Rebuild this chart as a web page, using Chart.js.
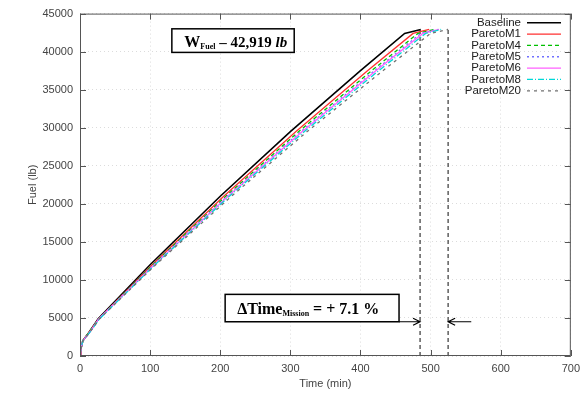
<!DOCTYPE html>
<html>
<head>
<meta charset="utf-8">
<script src="https://cdn.jsdelivr.net/npm/chart.js@4"></script>
<style>
  html, body { margin: 0; padding: 0; background: #fff; }
  #wrap { width: 586px; height: 394px; }
</style>
</head>
<body>
<div id="wrap"><canvas id="c" width="586" height="394"></canvas></div>
<script>
// Datos (combustible acumulado vs. tiempo)
const fuelLb = [0, 800, 2000, 3000, 4900, 12000, 21000, 29500, 37500, 42400, 42919];

const tBaseline = [0, 1, 4, 12, 26, 100, 200, 300, 400, 463, 486];
const tParetoM1 = [0, 1, 4, 12, 27, 103, 205, 308, 410, 475, 498];
const tParetoM4 = [0, 1, 4, 12, 27, 104, 208, 312, 416, 482, 505];
const tParetoM5 = [0, 1, 4, 13, 27, 105, 210, 315, 420, 486, 510];
const tParetoM6 = [0, 1, 4, 13, 27, 106, 211, 317, 422, 489, 512];
const tParetoM8 = [0, 1, 4, 13, 28, 107, 213, 320, 426, 493, 515];
const tParetoM20 = [0, 1, 4, 13, 28, 108, 216, 324, 432, 500, 525];

const seriesNames = ['Baseline', 'ParetoM1', 'ParetoM4', 'ParetoM5', 'ParetoM6', 'ParetoM8', 'ParetoM20'];
const seriesTimes = [tBaseline, tParetoM1, tParetoM4, tParetoM5, tParetoM6, tParetoM8, tParetoM20];
const seriesColors = ['#000000', '#ff3030', '#00c000', '#7070ff', '#ff60ff', '#00d8d8', '#707070'];
const seriesDash = [[], [], [4, 3], [2, 3], [], [6, 2, 1, 2], [3, 4]];
const seriesWidth = [1.6, 1.3, 1.3, 1.3, 1.3, 1.3, 1.3];

// Líneas verticales de fin de misión
const missionEndTimes = [485, 525];
const missionEndTop = 43000;

const xTicks = [0, 100, 200, 300, 400, 500, 600, 700];
const yTicks = [0, 5000, 10000, 15000, 20000, 25000, 30000, 35000, 40000, 45000];

const datasets = seriesNames.map((name, i) => ({
    label: name,
    data: seriesTimes[i].map((t, k) => ({ x: t, y: fuelLb[k] })),
    borderColor: seriesColors[i],
    borderDash: seriesDash[i],
    borderWidth: seriesWidth[i],
    showLine: true, pointRadius: 0, tension: 0, fill: false
}));
// dibujar la baseline encima
datasets.reverse();
missionEndTimes.forEach(t => datasets.push({
    label: 'fin',
    data: [{ x: t, y: 0 }, { x: t, y: missionEndTop }],
    borderColor: '#444', borderDash: [4, 3], borderWidth: 1.3,
    showLine: true, pointRadius: 0
}));

// Marco, ticks hacia dentro, leyenda estilo gnuplot y anotaciones
const gnuplotDeco = {
    id: 'gnuplotDeco',
    afterDraw(chart) {
        const { ctx, chartArea: a, scales: { x, y } } = chart;
        ctx.save();
        ctx.strokeStyle = '#555'; ctx.lineWidth = 1; ctx.setLineDash([]);
        ctx.strokeRect(a.left + 0.5, a.top + 0.5, a.right - a.left - 1, a.bottom - a.top - 1);
        ctx.beginPath();
        xTicks.forEach(v => {
            const px = Math.round(x.getPixelForValue(v)) + 0.5;
            ctx.moveTo(px, a.bottom); ctx.lineTo(px, a.bottom - 6);
            ctx.moveTo(px, a.top); ctx.lineTo(px, a.top + 6);
        });
        yTicks.forEach(v => {
            const py = Math.round(y.getPixelForValue(v)) + 0.5;
            ctx.moveTo(a.left, py); ctx.lineTo(a.left + 6, py);
            ctx.moveTo(a.right, py); ctx.lineTo(a.right - 6, py);
        });
        ctx.stroke();

        // leyenda
        ctx.font = '11.5px "Liberation Sans", Arial, sans-serif';
        ctx.textAlign = 'right'; ctx.textBaseline = 'middle';
        seriesNames.forEach((name, i) => {
            const ly = 22.7 + i * 11.35;
            ctx.fillStyle = '#222';
            ctx.fillText(name, 521, ly);
            ctx.beginPath();
            ctx.strokeStyle = seriesColors[i]; ctx.lineWidth = seriesWidth[i];
            ctx.setLineDash(seriesDash[i]);
            ctx.moveTo(527, ly); ctx.lineTo(561, ly); ctx.stroke();
        });
        ctx.setLineDash([]);

        // caja W_Fuel
        const b1x0 = x.getPixelForValue(131), b1x1 = x.getPixelForValue(305.5);
        const b1y0 = y.getPixelForValue(43000), b1y1 = y.getPixelForValue(39900);
        ctx.fillStyle = '#fff'; ctx.fillRect(b1x0, b1y0, b1x1 - b1x0, b1y1 - b1y0);
        ctx.strokeStyle = '#000'; ctx.lineWidth = 1.5;
        ctx.strokeRect(b1x0, b1y0, b1x1 - b1x0, b1y1 - b1y0);
        ctx.fillStyle = '#000'; ctx.textAlign = 'left'; ctx.textBaseline = 'alphabetic';
        let tx = b1x0 + 12.5; const base1 = b1y0 + 18.5;
        ctx.font = 'bold 16px "Liberation Serif", "Times New Roman", serif';
        ctx.fillText('W', tx, base1); tx += ctx.measureText('W').width;
        ctx.font = 'bold 8px "Liberation Serif", serif';
        ctx.fillText('Fuel', tx, base1 + 2); tx += ctx.measureText('Fuel').width;
        ctx.font = 'bold 15px "Liberation Serif", serif';
        ctx.fillText(' – 42,919 ', tx, base1); tx += ctx.measureText(' – 42,919 ').width;
        ctx.font = 'italic bold 15px "Liberation Serif", serif';
        ctx.fillText('lb', tx, base1);

        // caja ΔTime
        const b2x0 = x.getPixelForValue(207), b2x1 = x.getPixelForValue(455);
        const b2y0 = y.getPixelForValue(8100), b2y1 = y.getPixelForValue(4500);
        ctx.fillStyle = '#fff'; ctx.fillRect(b2x0, b2y0, b2x1 - b2x0, b2y1 - b2y0);
        ctx.strokeStyle = '#000'; ctx.lineWidth = 1.5;
        ctx.strokeRect(b2x0, b2y0, b2x1 - b2x0, b2y1 - b2y0);
        ctx.fillStyle = '#000';
        tx = b2x0 + 12; const base2 = b2y0 + 20;
        ctx.font = 'bold 16px "Liberation Serif", serif';
        ctx.fillText('ΔTime', tx, base2); tx += ctx.measureText('ΔTime').width;
        ctx.font = 'bold 8px "Liberation Serif", serif';
        ctx.fillText('Mission', tx, base2 + 2); tx += ctx.measureText('Mission').width;
        ctx.font = 'bold 16px "Liberation Serif", serif';
        ctx.fillText(' = + 7.1 %', tx, base2);

        // flechas
        const ay = b2y1;
        const ax0 = x.getPixelForValue(missionEndTimes[0]);
        const ax1 = x.getPixelForValue(missionEndTimes[1]);
        const axEnd = x.getPixelForValue(558);
        ctx.lineWidth = 1.2;
        ctx.beginPath();
        ctx.moveTo(b2x1, ay); ctx.lineTo(ax0, ay);
        ctx.moveTo(axEnd, ay); ctx.lineTo(ax1, ay);
        ctx.moveTo(ax0 - 7, ay - 3.5); ctx.lineTo(ax0, ay); ctx.lineTo(ax0 - 7, ay + 3.5);
        ctx.moveTo(ax1 + 7, ay - 3.5); ctx.lineTo(ax1, ay); ctx.lineTo(ax1 + 7, ay + 3.5);
        ctx.stroke();
        ctx.restore();
    }
};

const tickFont = { family: '"Liberation Sans", Arial, sans-serif', size: 11 };

new Chart(document.getElementById('c'), {
    type: 'scatter',
    data: { datasets },
    options: {
        responsive: false,
        animation: false,
        layout: { padding: { left: 0, right: 12, top: 12, bottom: 0 } },
        plugins: { legend: { display: false }, tooltip: { enabled: false } },
        scales: {
            x: {
                type: 'linear', min: 0, max: 700,
                afterBuildTicks: s => { s.ticks = xTicks.map(v => ({ value: v })); },
                afterFit: s => { s.height = 38; },
                grid: { color: '#dcdcdc', lineWidth: 1, drawTicks: false },
                border: { display: false, dash: [1, 3] },
                ticks: { font: tickFont, color: '#444', padding: 6, maxRotation: 0 },
                title: { display: true, text: 'Time (min)', font: { family: tickFont.family, size: 11 }, color: '#444', padding: { top: 0, bottom: 3 } }
            },
            y: {
                type: 'linear', min: 0, max: 45000,
                afterBuildTicks: s => { s.ticks = yTicks.map(v => ({ value: v })); },
                afterFit: s => { s.width = 80; },
                grid: { color: '#dcdcdc', lineWidth: 1, drawTicks: false },
                border: { display: false, dash: [1, 3] },
                ticks: { font: tickFont, color: '#444', padding: 7, callback: v => String(v) },
                title: { display: true, text: 'Fuel (lb)', font: { family: tickFont.family, size: 11 }, color: '#444', padding: { top: 26, bottom: 0 } }
            }
        }
    },
    plugins: [gnuplotDeco]
});
</script>
</body>
</html>
